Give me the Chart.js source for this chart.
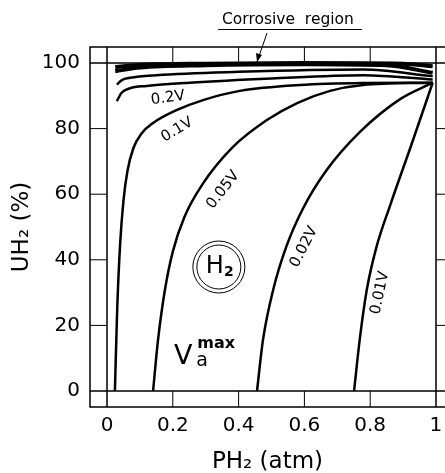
<!DOCTYPE html>
<html>
<head>
<meta charset="utf-8">
<script src="https://cdn.jsdelivr.net/npm/chart.js@4.4.1/dist/chart.umd.min.js"></script>
<style>
  html, body { margin: 0; padding: 0; background: #fff; }
  #wrap { width: 445px; height: 473px; }
</style>
</head>
<body>
<div id="wrap"><canvas id="chart"></canvas></div>
<script>
const xTicks = [0, 0.2, 0.4, 0.6, 0.8, 1];
const yTicks = [0, 20, 40, 60, 80, 100];

// Va max curves (PH2 atm, UH2 %)
const v001X = [0.751, 0.768, 0.789, 0.818, 0.862, 0.925, 0.99];
const v001Y = [0, 15.5, 30.5, 43.5, 57, 75, 94];
const v002X = [0.456, 0.474, 0.505, 0.545, 0.595, 0.665, 0.769, 0.891, 0.99];
const v002Y = [0, 15.5, 30.8, 44, 55.5, 67, 79, 89, 94];
const v005X = [0.140, 0.155, 0.176, 0.200, 0.235, 0.290, 0.383, 0.486, 0.578, 0.678, 0.778, 0.99];
const v005Y = [0, 15.5, 30.8, 42.5, 53, 63, 74.4, 82.6, 87.8, 91.5, 93.3, 94];
const v01X = [0.024, 0.031, 0.040, 0.050, 0.062, 0.080, 0.105, 0.140, 0.213, 0.292, 0.404, 0.587, 0.778, 0.99];
const v01Y = [0, 25, 45, 58, 67, 74, 78.5, 81.7, 85.7, 88.7, 91.5, 93.3, 93.9, 94];
const v02X = [0.03, 0.045, 0.07, 0.12, 0.25, 0.5, 0.78, 0.99];
const v02Y = [88.4, 91, 92.3, 93, 94, 95.3, 96.3, 95];
const v03X = [0.03, 0.045, 0.07, 0.15, 0.4, 0.78, 0.99];
const v03Y = [93.4, 94.8, 95.5, 96.3, 97.3, 98, 96];
// corrosive band near 100 %
const topAX = [0.025, 0.1, 0.3, 0.6, 0.85, 0.99];
const topAY = [97.5, 98.6, 99.3, 99.6, 99.3, 97];
const topBX = [0.025, 0.1, 0.3, 0.6, 0.9, 0.99];
const topBY = [98.8, 99.4, 99.8, 100, 99.8, 99];

const curveLabels = [
  { text: "0.2V", x: 0.185, y: 89.3, rot: -8 },
  { text: "0.1V", x: 0.213, y: 79.6, rot: -31 },
  { text: "0.05V", x: 0.353, y: 61.3, rot: -52 },
  { text: "0.02V", x: 0.599, y: 43.9, rot: -63 },
  { text: "0.01V", x: 0.830, y: 29.9, rot: -78 }
];

function toPoints(xs, ys) {
  return xs.map((v, i) => ({ x: v, y: ys[i] }));
}

function curve(xs, ys, width) {
  return {
    data: toPoints(xs, ys),
    showLine: true,
    borderColor: "#000",
    borderWidth: width,
    pointRadius: 0,
    cubicInterpolationMode: "monotone",
    fill: false
  };
}

const framePlugin = {
  id: "frame",
  beforeDatasetsDraw(chart) {
    const { ctx, chartArea: a, scales: { x, y } } = chart;
    const x0 = x.getPixelForValue(0), x1 = x.getPixelForValue(1);
    const y0 = y.getPixelForValue(0), y1 = y.getPixelForValue(100);
    ctx.save();
    ctx.strokeStyle = "#000";
    ctx.lineWidth = 1.5;
    ctx.beginPath();
    ctx.moveTo(a.right, a.top); ctx.lineTo(a.left, a.top);
    ctx.lineTo(a.left, a.bottom); ctx.lineTo(a.right, a.bottom);
    ctx.moveTo(x0, a.top); ctx.lineTo(x0, a.bottom);
    ctx.moveTo(x1, a.top); ctx.lineTo(x1, a.bottom);
    ctx.moveTo(a.left, y0); ctx.lineTo(a.right, y0);
    ctx.moveTo(a.left, y1); ctx.lineTo(a.right, y1);
    ctx.stroke();
    ctx.lineWidth = 1;
    ctx.beginPath();
    xTicks.slice(1, -1).forEach(v => {
      const px = x.getPixelForValue(v);
      ctx.moveTo(px, a.top); ctx.lineTo(px, y1);
      ctx.moveTo(px, y0); ctx.lineTo(px, a.bottom);
    });
    yTicks.slice(1, -1).forEach(v => {
      const py = y.getPixelForValue(v);
      ctx.moveTo(a.left, py); ctx.lineTo(x0, py);
      ctx.moveTo(x1, py); ctx.lineTo(a.right, py);
    });
    ctx.stroke();
    ctx.restore();
  },
  afterDraw(chart) {
    const { ctx, scales: { x, y } } = chart;
    ctx.save();
    ctx.fillStyle = "#000";
    ctx.strokeStyle = "#000";
    ctx.textAlign = "center";
    ctx.textBaseline = "middle";

    // curve labels
    ctx.font = "15px 'DejaVu Sans'";
    curveLabels.forEach(l => {
      ctx.save();
      ctx.translate(x.getPixelForValue(l.x), y.getPixelForValue(l.y));
      ctx.rotate(l.rot * Math.PI / 180);
      ctx.fillText(l.text, 0, 0);
      ctx.restore();
    });

    // circled H2
    const cx = x.getPixelForValue(0.34), cy = y.getPixelForValue(37.8);
    ctx.lineWidth = 1;
    ctx.beginPath(); ctx.arc(cx, cy, 26, 0, Math.PI * 2); ctx.stroke();
    ctx.beginPath(); ctx.arc(cx, cy, 22, 0, Math.PI * 2); ctx.stroke();
    ctx.font = "24px 'DejaVu Sans'";
    ctx.fillText("H", cx - 4, cy);
    ctx.font = "bold 14px 'DejaVu Sans'";
    ctx.fillText("2", cx + 10, cy + 5);

    // Va max
    const vx = x.getPixelForValue(0.232), vy = y.getPixelForValue(10.4);
    ctx.font = "27px 'DejaVu Sans'";
    ctx.fillText("V", vx, vy);
    ctx.textAlign = "left";
    ctx.font = "19px 'DejaVu Sans'";
    ctx.fillText("a", vx + 13, vy + 4);
    ctx.font = "bold 16px 'DejaVu Sans'";
    ctx.fillText("max", vx + 14, vy - 13);

    // corrosive region note
    ctx.textAlign = "center";
    ctx.font = "15.5px 'DejaVu Sans'";
    const tx = x.getPixelForValue(0.55);
    ctx.fillText("Corrosive  region", tx, 20);
    ctx.lineWidth = 1;
    ctx.beginPath();
    ctx.moveTo(x.getPixelForValue(0.338), 29.5);
    ctx.lineTo(x.getPixelForValue(0.775), 29.5);
    ctx.stroke();
    const ax = x.getPixelForValue(0.456), ay = y.getPixelForValue(100.3);
    ctx.beginPath();
    ctx.moveTo(ax + 10, 33);
    ctx.lineTo(ax, ay);
    ctx.stroke();
    ctx.beginPath();
    ctx.moveTo(ax, ay);
    ctx.lineTo(ax - 1, ay - 9);
    ctx.lineTo(ax + 5, ay - 7);
    ctx.closePath();
    ctx.fill();
    ctx.restore();
  }
};

const ctx = document.getElementById("chart");
new Chart(ctx, {
  type: "scatter",
  data: {
    datasets: [
      curve(v001X, v001Y, 2.5),
      curve(v002X, v002Y, 2.5),
      curve(v005X, v005Y, 2.5),
      curve(v01X, v01Y, 2.5),
      curve(v02X, v02Y, 2.5),
      curve(v03X, v03Y, 2.5),
      curve(topAX, topAY, 4),
      curve(topBX, topBY, 4)
    ]
  },
  options: {
    responsive: true,
    maintainAspectRatio: false,
    animation: false,
    layout: { padding: { top: 47, left: 0, right: 0, bottom: 0 } },
    plugins: {
      legend: { display: false },
      tooltip: { enabled: false }
    },
    scales: {
      x: {
        type: "linear",
        min: -0.0517,
        max: 1.0274,
        afterBuildTicks: s => { s.ticks = xTicks.map(v => ({ value: v })); },
        afterFit: s => { s.height = 66; s.paddingLeft = 0; s.paddingRight = 0; },
        grid: { display: false, drawTicks: false },
        border: { display: false },
        ticks: {
          color: "#000",
          padding: 7,
          maxRotation: 0,
          autoSkip: false,
          callback: v => String(v),
          font: { family: "'DejaVu Sans'", size: 20 }
        },
        title: {
          display: true,
          text: "PH₂ (atm)",
          color: "#000",
          padding: { top: 0, bottom: -3 },
          font: { family: "'DejaVu Sans'", size: 23 }
        }
      },
      y: {
        type: "linear",
        min: -4.88,
        max: 104.88,
        afterBuildTicks: s => { s.ticks = yTicks.map(v => ({ value: v })); },
        afterFit: s => { s.width = 90; s.paddingTop = 0; s.paddingBottom = 0; },
        grid: { display: false, drawTicks: false },
        border: { display: false },
        ticks: {
          color: "#000",
          padding: 10,
          autoSkip: false,
          font: { family: "'DejaVu Sans'", size: 20 }
        },
        title: {
          display: true,
          text: "UH₂ (%)",
          color: "#000",
          padding: { top: 8, bottom: 0 },
          font: { family: "'DejaVu Sans'", size: 23 }
        }
      }
    }
  },
  plugins: [framePlugin]
});
</script>
</body>
</html>
